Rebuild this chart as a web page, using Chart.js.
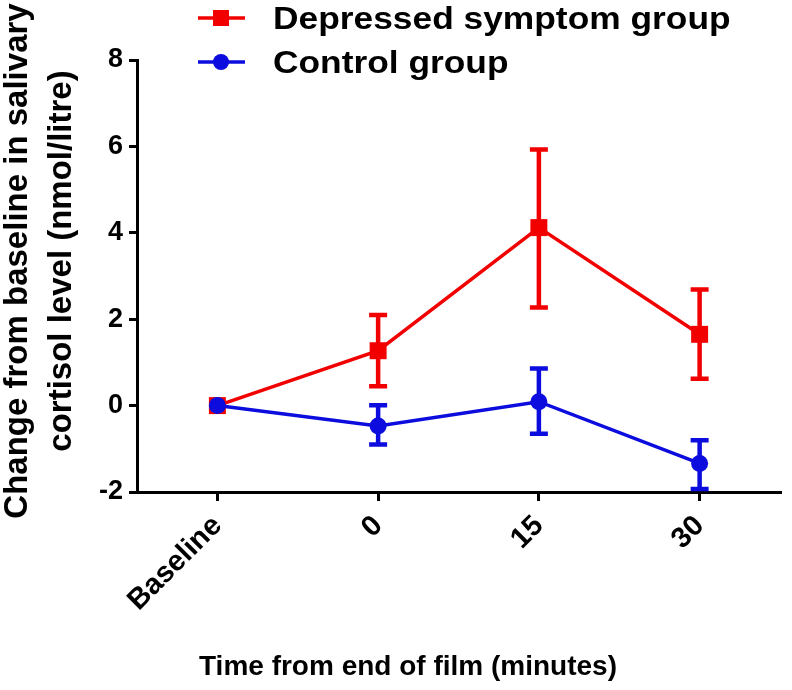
<!DOCTYPE html>
<html lang="en">
<head>
<meta charset="UTF-8">
<title>Salivary cortisol change</title>
<script src="https://cdn.jsdelivr.net/npm/chart.js@4"></script>
<style>
  html, body { margin: 0; padding: 0; background: #fff; }
  #wrap { width: 792px; height: 690px; }
</style>
</head>
<body>
<div id="wrap"><canvas id="chart" width="792" height="690"></canvas></div>
<script>
// data
var timeLabels = ['Baseline', '0', '15', '30'];

var depressedMean  = [0, 1.27, 4.12, 1.65];
var depressedUpper = [null, 2.10, 5.93, 2.69];
var depressedLower = [null, 0.45, 2.27, 0.62];

var controlMean  = [0, -0.47, 0.09, -1.34];
var controlUpper = [null, 0.01, 0.86, -0.80];
var controlLower = [null, -0.90, -0.65, -1.93];

var yTitleLines = ['Change from baseline in salivary', 'cortisol level (nmol/litre)'];
var xTitle = 'Time from end of film (minutes)';

var RED = '#f20000';
var BLUE = '#0c0cde';
var FONT = "'Liberation Sans', Arial, Helvetica, sans-serif";

Chart.defaults.font.family = FONT;
Chart.defaults.color = '#000';

// error bars under the lines
var errorBars = {
  id: 'errorBars',
  beforeDatasetsDraw: function(chart) {
    var ctx = chart.ctx, x = chart.scales.x, y = chart.scales.y;
    chart.data.datasets.forEach(function(ds) {
      ctx.save();
      ctx.strokeStyle = ds.borderColor;
      ctx.lineWidth = 4.5;
      ds.errUpper.forEach(function(up, i) {
        if (up === null) return;
        var px = x.getPixelForValue(i);
        var top = y.getPixelForValue(up);
        var bot = y.getPixelForValue(ds.errLower[i]);
        ctx.beginPath();
        ctx.moveTo(px, top); ctx.lineTo(px, bot);
        ctx.moveTo(px - 9, top); ctx.lineTo(px + 9, top);
        ctx.moveTo(px - 9, bot); ctx.lineTo(px + 9, bot);
        ctx.stroke();
      });
      ctx.restore();
    });
  }
};

// legend + axis titles placed like the original figure
var labelsPlugin = {
  id: 'labelsPlugin',
  afterDraw: function(chart) {
    var ctx = chart.ctx;
    ctx.save();
    ctx.fillStyle = '#000';

    // legend
    var rows = [
      { ds: chart.data.datasets[0], y: 18 },
      { ds: chart.data.datasets[1], y: 62 }
    ];
    rows.forEach(function(r) {
      ctx.strokeStyle = r.ds.borderColor;
      ctx.fillStyle = r.ds.borderColor;
      ctx.lineWidth = 3.5;
      ctx.beginPath();
      ctx.moveTo(198, r.y); ctx.lineTo(245, r.y);
      ctx.stroke();
      if (r.ds.pointStyle === 'rect') {
        ctx.fillRect(213, r.y - 8, 16, 16);
      } else {
        ctx.beginPath();
        ctx.arc(221, r.y, 8, 0, Math.PI * 2);
        ctx.fill();
      }
      ctx.fillStyle = '#000';
      ctx.save();
      ctx.translate(273, r.y + 11);
      ctx.scale(1.14, 1);
      ctx.font = 'bold 31px ' + FONT;
      ctx.textBaseline = 'alphabetic';
      ctx.textAlign = 'left';
      ctx.fillText(r.ds.label, 0, 0);
      ctx.restore();
    });

    // y title, two lines
    ctx.save();
    ctx.font = 'bold 33px ' + FONT;
    ctx.textAlign = 'center';
    ctx.textBaseline = 'alphabetic';
    ctx.translate(27, 261);
    ctx.rotate(-Math.PI / 2);
    ctx.fillText(yTitleLines[0], 0, 0);
    ctx.fillText(yTitleLines[1], 0, 44);
    ctx.restore();

    // x title
    ctx.font = 'bold 28px ' + FONT;
    ctx.textAlign = 'center';
    ctx.textBaseline = 'alphabetic';
    ctx.fillText(xTitle, 408, 675);
    ctx.restore();
  }
};

var ctx = document.getElementById('chart').getContext('2d');
var cortisolChart = new Chart(ctx, {
  type: 'line',
  data: {
    labels: timeLabels,
    datasets: [{
      label: 'Depressed symptom group',
      data: depressedMean,
      errUpper: depressedUpper,
      errLower: depressedLower,
      borderColor: RED,
      backgroundColor: RED,
      borderWidth: 3.5,
      pointStyle: 'rect',
      pointRadius: 12,
      pointBorderWidth: 0,
      order: 2
    }, {
      label: 'Control group',
      data: controlMean,
      errUpper: controlUpper,
      errLower: controlLower,
      borderColor: BLUE,
      backgroundColor: BLUE,
      borderWidth: 3.5,
      pointStyle: 'circle',
      pointRadius: 8.5,
      pointBorderWidth: 0,
      order: 1
    }]
  },
  options: {
    responsive: false,
    animation: false,
    layout: { padding: { top: 60, right: 4, left: 0, bottom: 0 } },
    plugins: {
      legend: { display: false },
      tooltip: { enabled: false }
    },
    scales: {
      x: {
        offset: true,
        afterFit: function(scale) { scale.height = 198; },
        border: { display: true, color: '#000', width: 3 },
        grid: { drawOnChartArea: false, color: '#000', lineWidth: 3, tickLength: 9, offset: false },
        ticks: {
          font: { size: 29, weight: 'bold' },
          maxRotation: 45,
          minRotation: 45,
          padding: 8
        }
      },
      y: {
        min: -2,
        max: 8,
        afterFit: function(scale) { scale.width = 137; },
        border: { display: true, color: '#000', width: 3 },
        grid: { drawOnChartArea: false, color: '#000', lineWidth: 3, tickLength: 8 },
        ticks: {
          stepSize: 2,
          font: { size: 27, weight: 'bold' },
          padding: 6
        }
      }
    }
  },
  plugins: [errorBars, labelsPlugin]
});
</script>
</body>
</html>
